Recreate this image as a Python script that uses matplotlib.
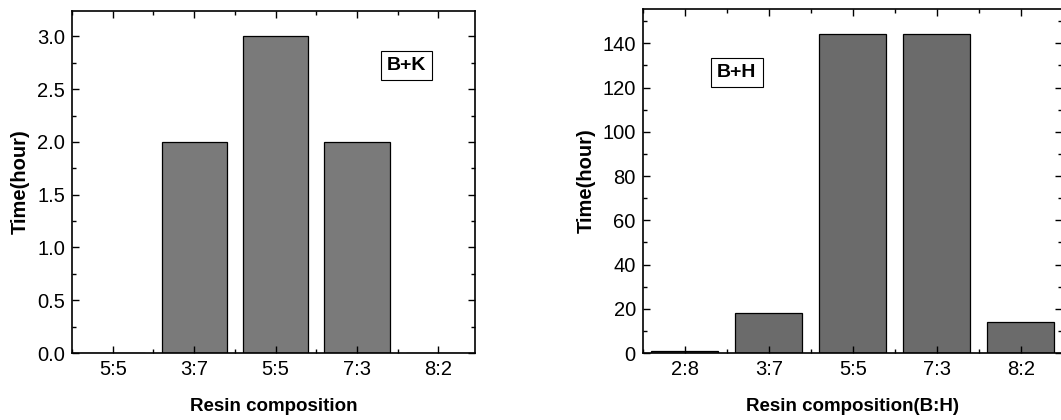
import matplotlib.pyplot as plt
from matplotlib.ticker import MultipleLocator

plt.rcParams['font.family'] = ['Liberation Sans', 'DejaVu Sans']

# data
bk_labels = ['5:5', '3:7', '5:5', '7:3', '8:2']
bk_hours = [0, 2, 3, 2, 0]

bh_labels = ['2:8', '3:7', '5:5', '7:3', '8:2']
bh_hours = [1, 18, 144, 144, 14]


def style_axes(ax):
    for s in ax.spines.values():
        s.set_linewidth(1.2)
    ax.tick_params(which='both', direction='in', top=True, right=True,
                   labelsize=14.5, width=1.0)
    ax.tick_params(which='major', length=5, pad=5)
    ax.tick_params(which='minor', length=3)
    ax.xaxis.set_minor_locator(MultipleLocator(0.5))


def draw_panel(ax, labels, hours, colour, ylim, ymaj, ymin, xlab, tag, tagpos, xmax):
    x = list(range(len(labels)))
    ax.bar(x, hours, width=0.8, color=colour, edgecolor='black', linewidth=0.9)
    ax.set_xticks(x)
    ax.set_xticklabels(labels)
    ax.set_xlim(-0.5, xmax)
    ax.set_ylim(*ylim)
    ax.yaxis.set_major_locator(MultipleLocator(ymaj))
    ax.yaxis.set_minor_locator(MultipleLocator(ymin))
    style_axes(ax)
    ax.set_ylabel('Time(hour)', fontsize=14.5, fontweight='bold', labelpad=5)
    ax.set_xlabel(xlab, fontsize=13.5, fontweight='bold', labelpad=14)
    ax.text(tagpos[0], tagpos[1], tag, transform=ax.transAxes, fontsize=14,
            fontweight='bold', ha='center', va='center',
            bbox=dict(boxstyle='square,pad=0.32', fc='white', ec='black', lw=0.8))


fig = plt.figure(figsize=(10.61, 4.2), dpi=100)
ax1 = fig.add_axes([0.0679, 0.1595, 0.3798, 0.8143])
ax2 = fig.add_axes([0.6058, 0.1595, 0.3950, 0.8191])

draw_panel(ax1, bk_labels, bk_hours, '#7a7a7a', (0, 3.24), 0.5, 0.25,
           'Resin composition', 'B+K', (0.83, 0.84), 4.45)
ax1.yaxis.set_major_formatter(plt.FuncFormatter(lambda v, p: '%.1f' % v))

draw_panel(ax2, bh_labels, bh_hours, '#6b6b6b', (0, 155.5), 20, 10,
           'Resin composition(B:H)', 'B+H', (0.224, 0.815), 4.49)

fig.savefig('out.png', dpi=100)
